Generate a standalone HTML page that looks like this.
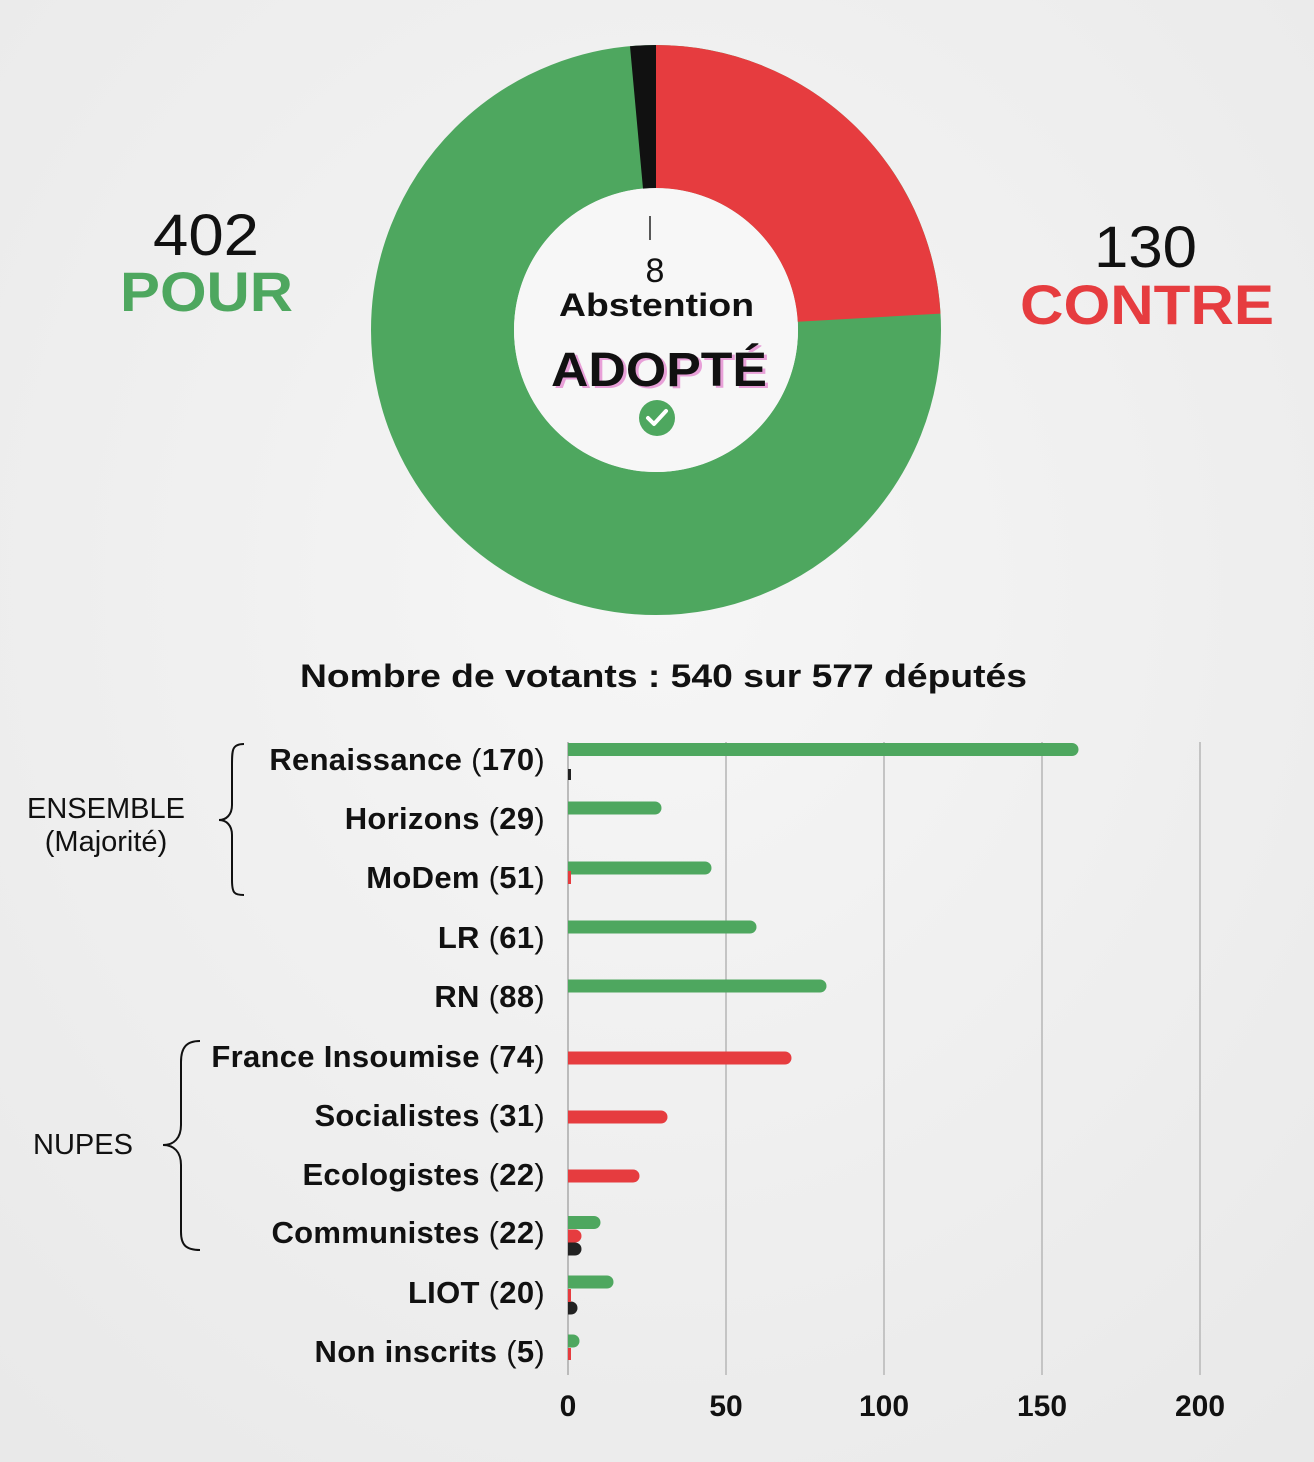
<!DOCTYPE html>
<html><head><meta charset="utf-8"><style>
html,body{margin:0;padding:0;background:#efefef;}
svg{display:block;font-family:"Liberation Sans",sans-serif;}
</style></head><body>
<svg width="1314" height="1462" viewBox="0 0 1314 1462">
<defs>
<radialGradient id="bg" cx="50%" cy="40%" r="75%">
<stop offset="0" stop-color="#f6f6f6"/><stop offset="1" stop-color="#e9e9e9"/>
</radialGradient>
<clipPath id="cl"><rect x="568" y="700" width="700" height="700"/></clipPath>
</defs>
<rect width="1314" height="1462" fill="url(#bg)"/>
<!-- donut -->
<circle cx="656" cy="330" r="213.5" fill="none" stroke="#4ea75f" stroke-width="143"/>
<circle cx="656" cy="330" r="142" fill="#f7f7f7"/>
<path d="M656,45 A285,285 0 0 1 940.5,313.6 L797.8,321.8 A142,142 0 0 0 656,188 Z" fill="#e63c3f"/>
<path d="M630,46.2 A285,285 0 0 1 656,45 L656,188 A142,142 0 0 0 643,188.6 Z" fill="#111"/>
<line x1="650" y1="216" x2="650" y2="240" stroke="#222" stroke-width="1.5"/>
<text x="655" y="282" font-size="34" text-anchor="middle" fill="#111">8</text>
<text x="559" y="316" font-size="32" font-weight="bold" fill="#111" textLength="195" lengthAdjust="spacingAndGlyphs">Abstention</text>
<text x="554" y="388" font-size="48" font-weight="bold" fill="#e8a0d8" textLength="216" lengthAdjust="spacingAndGlyphs">ADOPTÉ</text>
<text x="551" y="386" font-size="48" font-weight="bold" fill="#111" textLength="216" lengthAdjust="spacingAndGlyphs">ADOPTÉ</text>
<circle cx="657" cy="418" r="18" fill="#4ea75f"/>
<path d="M648,418 L654,424 L666,411" fill="none" stroke="#fff" stroke-width="4" stroke-linecap="round" stroke-linejoin="round"/>
<text x="153" y="255" font-size="58" fill="#111" textLength="106" lengthAdjust="spacingAndGlyphs">402</text>
<text x="120" y="311" font-size="56" font-weight="bold" fill="#4ea75f" textLength="173" lengthAdjust="spacingAndGlyphs">POUR</text>
<text x="1094" y="267" font-size="58" fill="#111" textLength="103" lengthAdjust="spacingAndGlyphs">130</text>
<text x="1020" y="324" font-size="56" font-weight="bold" fill="#e63c3f" textLength="254" lengthAdjust="spacingAndGlyphs">CONTRE</text>
<text x="300" y="687" font-size="32" font-weight="bold" fill="#111" textLength="727" lengthAdjust="spacingAndGlyphs">Nombre de votants : 540 sur 577 députés</text>
<!-- grid -->
<g stroke="#c4c4c4" stroke-width="2">
<line x1="726" y1="742" x2="726" y2="1375"/><line x1="884" y1="742" x2="884" y2="1375"/>
<line x1="1042" y1="742" x2="1042" y2="1375"/><line x1="1200" y1="742" x2="1200" y2="1375"/>
<line x1="568" y1="742" x2="568" y2="1375" stroke="#bbb"/>
</g>
<g font-size="30" font-weight="bold" fill="#111" text-anchor="middle">
<text x="568" y="1416">0</text><text x="726" y="1416">50</text><text x="884" y="1416">100</text><text x="1042" y="1416">150</text><text x="1200" y="1416">200</text>
</g>
<!-- bars -->
<g stroke-width="13" stroke-linecap="round" clip-path="url(#cl)">
<line x1="560" y1="749.5" x2="1072" y2="749.5" stroke="#4ea75f"/>
<line x1="560" y1="808" x2="655" y2="808" stroke="#4ea75f"/>
<line x1="560" y1="868" x2="705" y2="868" stroke="#4ea75f"/>
<line x1="560" y1="927" x2="750" y2="927" stroke="#4ea75f"/>
<line x1="560" y1="986" x2="820" y2="986" stroke="#4ea75f"/>
<line x1="560" y1="1058" x2="785" y2="1058" stroke="#e63c3f"/>
<line x1="560" y1="1117" x2="661" y2="1117" stroke="#e63c3f"/>
<line x1="560" y1="1176" x2="633" y2="1176" stroke="#e63c3f"/>
<line x1="560" y1="1222.5" x2="594" y2="1222.5" stroke="#4ea75f"/>
<line x1="560" y1="1236" x2="575" y2="1236" stroke="#e63c3f"/>
<line x1="560" y1="1249" x2="575" y2="1249" stroke="#222"/>
<line x1="560" y1="1282" x2="607" y2="1282" stroke="#4ea75f"/>
<line x1="560" y1="1308" x2="571" y2="1308" stroke="#222"/>
<line x1="560" y1="1341" x2="573" y2="1341" stroke="#4ea75f"/>
</g>
<rect x="568" y="1289" width="3" height="13" fill="#e63c3f"/>
<rect x="568" y="1348" width="3" height="12" fill="#e63c3f"/>
<rect x="568" y="871" width="3" height="13" fill="#e63c3f"/>
<rect x="568" y="769" width="3" height="11" fill="#222"/>
<!-- labels -->
<g font-size="31" fill="#111" text-anchor="end" letter-spacing="0.3">
<text x="545" y="770"><tspan font-weight="bold">Renaissance </tspan>(<tspan font-weight="bold">170</tspan>)</text>
<text x="545" y="829"><tspan font-weight="bold">Horizons </tspan>(<tspan font-weight="bold">29</tspan>)</text>
<text x="545" y="888"><tspan font-weight="bold">MoDem </tspan>(<tspan font-weight="bold">51</tspan>)</text>
<text x="545" y="948"><tspan font-weight="bold">LR </tspan>(<tspan font-weight="bold">61</tspan>)</text>
<text x="545" y="1007"><tspan font-weight="bold">RN </tspan>(<tspan font-weight="bold">88</tspan>)</text>
<text x="545" y="1067"><tspan font-weight="bold">France Insoumise </tspan>(<tspan font-weight="bold">74</tspan>)</text>
<text x="545" y="1126"><tspan font-weight="bold">Socialistes </tspan>(<tspan font-weight="bold">31</tspan>)</text>
<text x="545" y="1185"><tspan font-weight="bold">Ecologistes </tspan>(<tspan font-weight="bold">22</tspan>)</text>
<text x="545" y="1243"><tspan font-weight="bold">Communistes </tspan>(<tspan font-weight="bold">22</tspan>)</text>
<text x="545" y="1303"><tspan font-weight="bold">LIOT </tspan>(<tspan font-weight="bold">20</tspan>)</text>
<text x="545" y="1362"><tspan font-weight="bold">Non inscrits </tspan>(<tspan font-weight="bold">5</tspan>)</text>
</g>
<g font-size="29" fill="#111" text-anchor="middle">
<text x="106" y="818">ENSEMBLE</text>
<text x="106" y="851">(Majorité)</text>
<text x="83" y="1154">NUPES</text>
</g>
<g fill="none" stroke="#111" stroke-width="2">
<path d="M244,744 C232,744 232,750 232,765 L232,805 C232,815 226,820 219,820 C226,820 232,825 232,835 L232,880 C232,893 234,895 244,895"/>
<path d="M200,1041 C186,1041 181,1048 181,1062 L181,1125 C181,1138 174,1145 163,1145 C174,1145 181,1152 181,1165 L181,1232 C181,1245 186,1250 200,1250"/>
</g>
</svg>
</body></html>
